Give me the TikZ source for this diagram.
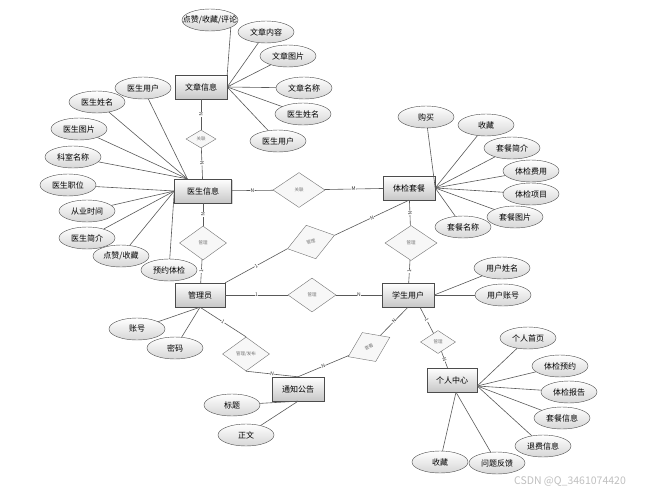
\documentclass[tikz,border=0pt]{standalone}
\usepackage{fontspec}
\setmainfont{Noto Sans CJK SC}
\usetikzlibrary{shapes.geometric,shadows}
\begin{document}
\begin{tikzpicture}
      [
      x=1pt,y=-1pt,
      every node/.style={font=\fontsize{8}{9}\selectfont},
      entity/.style={rectangle,draw=black!70,top color=white,bottom color=black!22,inner sep=0pt,minimum width=52pt,minimum height=24pt,drop shadow={shadow xshift=1.2pt,shadow yshift=-1.2pt,opacity=0.35}},
      attr/.style={ellipse,draw=black!70,top color=white,bottom color=black!16,inner sep=0pt,minimum width=56pt,minimum height=22pt},
      rel/.style={diamond,draw=black!55,fill=black!3,text=black!55,inner sep=0pt,font=\fontsize{4.5}{5}\selectfont},
      card/.style={fill=white,inner sep=0.3pt,sloped,text=black!80,font=\fontsize{5}{5}\selectfont},
      link/.style={draw=black!65,line width=0.6pt}
      ]
      \useasboundingbox (0,0) rectangle (654,496);
      \node (art) at (201,87) [entity] {文章信息};
      \node (doc) at (203,191) [entity,minimum width=57pt] {医生信息};
      \node (pkg) at (409,188) [entity] {体检套餐};
      \node (adm) at (200,295) [entity,minimum width=50pt] {管理员};
      \node (stu) at (408,295) [entity] {学生用户};
      \node (note) at (298,389) [entity] {通知公告};
      \node (home) at (452,380) [entity,minimum width=50pt] {个人中心};
      \node (r1) at (201,139) [rel,minimum width=30pt,minimum height=18pt] {关联};
      \node (r2) at (299,190) [rel,minimum width=52pt,minimum height=35pt] {关联};
      \node (r3) at (203,243) [rel,minimum width=47pt,minimum height=34pt] {管理};
      \node (r4) at (311,242) [rel,minimum width=49pt,minimum height=35pt,rotate=16] {管理};
      \node (r5) at (411,243) [rel,minimum width=52pt,minimum height=35pt] {管理};
      \node (r6) at (312,295) [rel,minimum width=48pt,minimum height=34pt] {管理};
      \node (r7) at (246,354) [rel,minimum width=47pt,minimum height=34pt] {管理/发布};
      \node (r8) at (369,347) [rel,minimum width=46pt,minimum height=32pt,rotate=25] {查看};
      \node (r9) at (438,342) [rel,minimum width=35pt,minimum height=23pt] {管理};
      \node (a1) at (210,20) [attr] {\makebox[0pt]{点赞/收藏/评论}};
      \node (a2) at (266,32) [attr] {文章内容};
      \node (a3) at (288,56) [attr] {文章图片};
      \node (a4) at (304,88) [attr] {文章名称};
      \node (a5) at (303,114) [attr] {医生姓名};
      \node (a6) at (278,141) [attr] {医生用户};
      \node (d1) at (143,88) [attr] {医生用户};
      \node (d2) at (97,102) [attr] {医生姓名};
      \node (d3) at (79,129) [attr] {医生图片};
      \node (d4) at (73,157) [attr] {科室名称};
      \node (d5) at (68,185) [attr] {医生职位};
      \node (d6) at (87,211) [attr] {从业时间};
      \node (d7) at (87,238) [attr] {医生简介};
      \node (d8) at (121,256) [attr] {点赞/收藏};
      \node (d9) at (169,270) [attr] {预约体检};
      \node (p1) at (426,117) [attr] {购买};
      \node (p2) at (486,125) [attr] {收藏};
      \node (p3) at (512,148) [attr] {套餐简介};
      \node (p4) at (531,171) [attr] {体检费用};
      \node (p5) at (531,194) [attr] {体检项目};
      \node (p6) at (515,217) [attr] {套餐图片};
      \node (p7) at (463,227) [attr] {套餐名称};
      \node (s1) at (502,268) [attr] {用户姓名};
      \node (s2) at (503,295) [attr] {用户账号};
      \node (m1) at (137,329) [attr] {账号};
      \node (m2) at (175,348) [attr] {密码};
      \node (n1) at (232,405) [attr] {标题};
      \node (n2) at (246,435) [attr] {正文};
      \node (h1) at (528,338) [attr] {个人首页};
      \node (h2) at (560,366) [attr] {体检预约};
      \node (h3) at (569,392) [attr] {体检报告};
      \node (h4) at (562,418) [attr] {套餐信息};
      \node (h5) at (543,446) [attr] {退费信息};
      \node (h6) at (440,462) [attr] {收藏};
      \node (h7) at (497,463) [attr] {问题反馈};
      \node (wm) at (570,482) [text=black!25,font=\fontsize{10.5}{11}\selectfont] {CSDN @Q\_3461074420};
      \draw [link] (art.north east) -- (a1.-20);
      \foreach \a in {a2,a3,a4,a5,a6}
        \draw [link] (art.east) -- (\a);
      \foreach \d in {d1,d2,d3,d4}
        \draw [link] ([xshift=13pt]doc.north west) -- (\d);
      \foreach \d in {d5,d6,d7,d8,d9}
        \draw [link] (doc.west) -- (\d);
      \foreach \p in {p1,p2,p3,p4,p5,p6,p7}
        \draw [link] (pkg.east) -- (\p);
      \foreach \s in {s1,s2}
        \draw [link] (stu.east) -- (\s);
      \foreach \m in {m1,m2}
        \draw [link] (adm.south) -- (\m);
      \foreach \n in {n1,n2}
        \draw [link] (note.south) -- (\n);
      \foreach \h in {h1,h2,h3,h4,h5}
        \draw [link] ([yshift=-6pt]home.east) -- (\h);
      \foreach \h in {h6,h7}
        \draw [link] ([xshift=4pt]home.south) -- (\h);
      \draw [link] (art) -- node [card] {N} (r1);
      \draw [link] (r1) -- node [card] {N} (doc);
      \draw [link] (doc) -- node [card] {N} (r2);
      \draw [link] (r2) -- node [card] {M} (pkg);
      \draw [link] (doc) -- node [card] {N} (r3);
      \draw [link] (r3) -- node [card] {1} (adm);
      \draw [link] (adm.north east) -- node [card] {1} (r4.west);
      \draw [link] (r4.east) -- node [card] {N} (pkg.south);
      \draw [link] (pkg) -- node [card] {N} (r5);
      \draw [link] (r5) -- node [card] {1} (stu);
      \draw [link] (adm) -- node [card] {1} (r6);
      \draw [link] (r6) -- node [card] {N} (stu);
      \draw [link] (adm.south) -- node [card] {1} (r7.north);
      \draw [link] (r7.south) -- node [card] {N} (note.north);
      \draw [link] (note.north) -- node [card] {N} (r8);
      \draw [link] (r8) -- node [card] {N} (stu.south);
      \draw [link] ([xshift=12pt]stu.south) -- node [card] {1} (r9);
      \draw [link] (r9) -- node [card] {N} (home);
    \end{tikzpicture}
\end{document}
